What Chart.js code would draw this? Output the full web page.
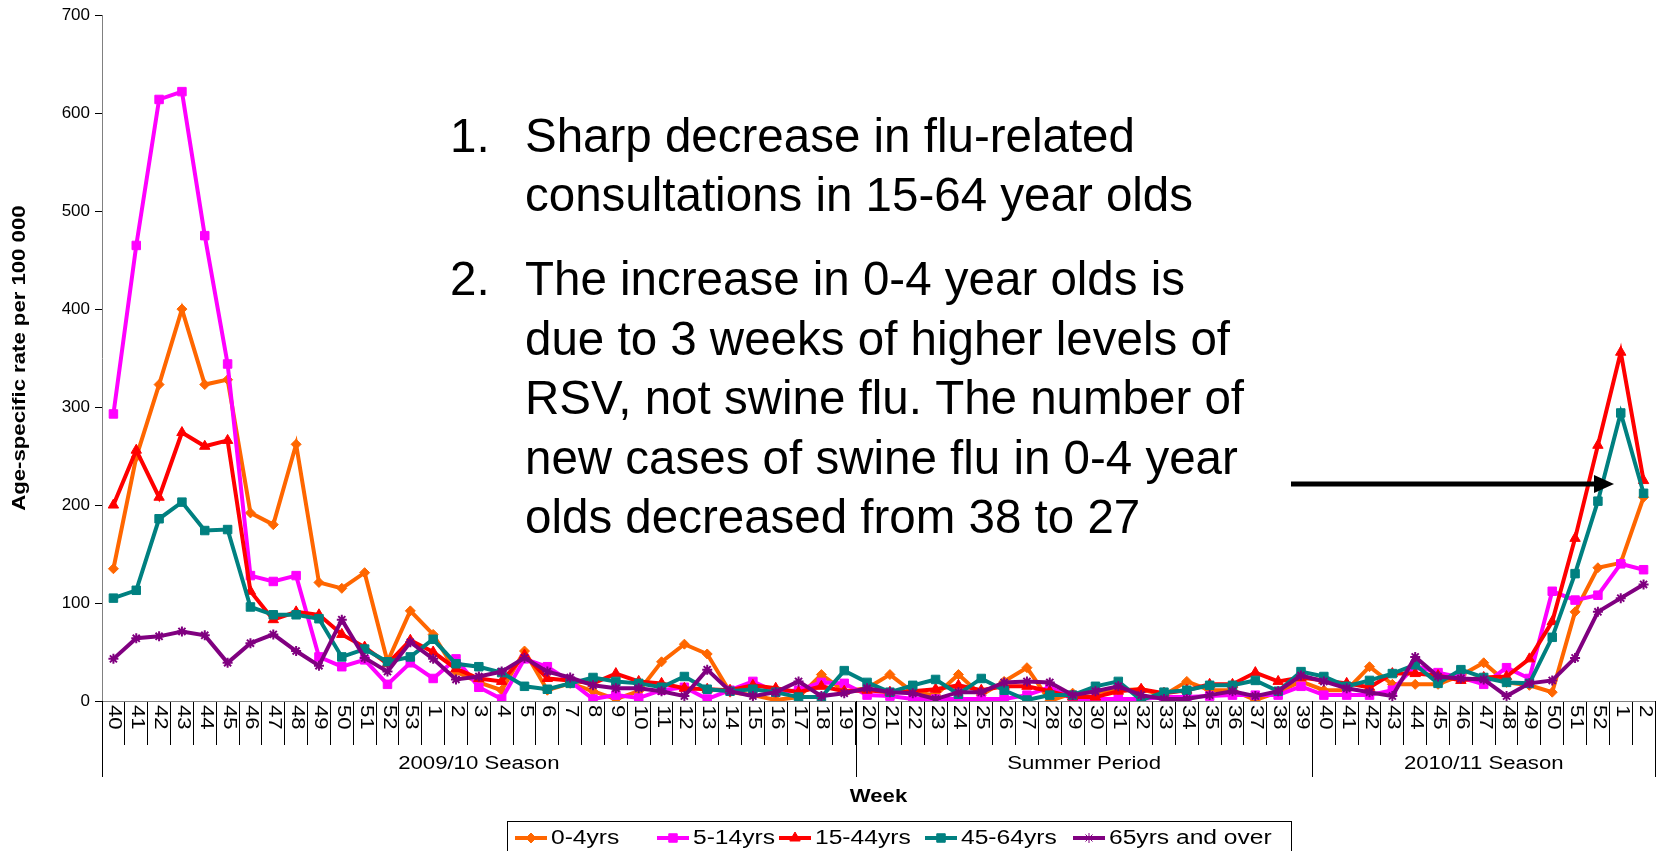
<!DOCTYPE html>
<html lang="en">
    <head>
        <title>Age-specific consultation rates</title>
        <meta charset="UTF-8">
        <script src="https://cdn.jsdelivr.net/npm/chart.js@4.4.1/dist/chart.umd.min.js"></script>
        <style>
            html, body { margin: 0; padding: 0; background: #fff; }
            .chart { width: 1662px; height: 851px; }
        </style>
    </head>
    <body>
        <div class="chart">
            <canvas id="myChart"></canvas>
        </div>
    </body>

    <script>
        // week labels, 2009/10 season -> summer -> 2010/11 season
        const weeks = ['40','41','42','43','44','45','46','47','48','49','50','51','52','53',
            '1','2','3','4','5','6','7','8','9','10','11','12','13','14','15','16','17','18','19',
            '20','21','22','23','24','25','26','27','28','29','30','31','32','33','34','35','36','37','38','39',
            '40','41','42','43','44','45','46','47','48','49','50','51','52','1','2'];

        const periods = ['2009/10 Season', 'Summer Period', '2010/11 Season'];
        const periodLengths = [33, 20, 15];

        const yTicks = [0, 100, 200, 300, 400, 500, 600, 700];

        const ageGroups = ['0-4yrs', '5-14yrs', '15-44yrs', '45-64yrs', '65yrs and over'];

        const rate0to4 = [135,249,323,400,323,328,192,180,262,121,115,131,40,92,
            68,30,19,11,51,11,18,10,2,10,40,58,48,9,6,1,4,27,10,
            13,27,9,6,27,6,20,34,0,8,9,11,12,6,20,11,11,1,9,20,
            11,11,35,17,17,17,26,39,19,16,9,91,136,141,208];

        const rate5to14 = [293,465,614,622,475,344,128,122,128,45,35,42,17,39,
            23,43,14,2,43,35,20,2,6,3,11,14,2,11,20,9,11,19,18,
            6,5,2,2,2,2,2,6,14,2,2,2,2,4,4,5,6,6,6,15,
            6,6,6,11,36,29,24,17,34,23,112,103,108,140,134];

        const rate15to44 = [200,256,208,274,260,266,112,83,91,88,68,55,38,62,
            50,33,23,20,47,23,21,18,28,20,18,13,12,11,16,13,9,15,10,
            11,9,10,12,16,11,15,15,10,4,4,10,12,8,11,17,17,29,20,24,
            21,18,14,28,28,26,21,24,25,43,81,166,261,356,225];

        const rate45to64 = [105,113,186,203,174,175,96,88,88,84,45,53,40,45,
            63,38,35,29,15,12,18,24,20,18,14,25,12,10,12,9,4,4,31,
            19,9,16,22,7,23,11,1,6,6,15,20,1,9,11,16,16,21,10,30,
            25,15,21,28,37,18,32,24,19,18,65,130,204,294,212];

        const rate65plus = [43,64,66,71,67,39,59,68,51,36,83,44,30,60,
            43,22,25,30,44,30,24,16,13,13,10,5,32,10,5,9,20,5,8,
            13,9,8,2,9,9,19,20,19,6,10,15,6,2,2,6,10,5,10,26,
            20,13,9,5,45,25,23,22,5,18,21,44,91,105,119];

        const seriesColors = ['#FF6600', '#FF00FF', '#FF0000', '#008080', '#800080'];
        const pointStyles = ['rectRot', 'rect', 'triangle', 'rect', 'star'];
        const pointSizes = [5, 6, 6, 6, 5];

        const noteOne = ['Sharp decrease in flu-related', 'consultations in 15-64 year olds'];
        const noteTwo = ['The increase in 0-4 year olds is', 'due to 3 weeks of higher levels of',
            'RSV, not swine flu. The number of', 'new cases of swine flu in 0-4 year', 'olds decreased from 38 to 27'];

        const FONT = '"Liberation Sans", Arial, sans-serif';
        const SX = 1.23; // chart text in the original is a bit wide

        function wideText(ctx, txt, x, y, font, align, rot) {
            ctx.save();
            ctx.translate(x, y);
            if (rot) ctx.rotate(rot);
            ctx.scale(SX, 1);
            ctx.font = font;
            ctx.textAlign = align;
            ctx.textBaseline = 'middle';
            ctx.fillStyle = '#000';
            ctx.fillText(txt, 0, 0);
            ctx.restore();
        }

        function marker(ctx, style, r, color, x, y) {
            ctx.save();
            ctx.fillStyle = color;
            ctx.strokeStyle = color;
            Chart.helpers.drawPoint(ctx, {pointStyle: style, radius: r, rotation: 0, borderWidth: style === 'star' ? 2 : 1}, x, y);
            ctx.restore();
        }

        const decorations = {
            id: 'decorations',
            afterDraw(chart) {
                const ctx = chart.ctx;
                const xs = chart.scales.x;
                const area = chart.chartArea;
                const bottom = area.bottom;

                // week labels, turned clockwise
                weeks.forEach((w, i) => {
                    wideText(ctx, w, xs.getPixelForValue(i) + 1, bottom + 4, '18px ' + FONT, 'left', Math.PI / 2);
                });

                // period separators and names
                ctx.save();
                ctx.strokeStyle = '#000';
                ctx.lineWidth = 1;
                let start = 0;
                const edge = (i) => area.left + (area.right - area.left) * i / weeks.length;
                [0].concat(periodLengths).forEach((n) => {
                    start += n;
                    const x = Math.round(edge(start)) + 0.5;
                    ctx.beginPath();
                    ctx.moveTo(x, bottom);
                    ctx.lineTo(x, bottom + 76);
                    ctx.stroke();
                });
                ctx.restore();
                start = 0;
                periods.forEach((p, k) => {
                    const mid = (edge(start) + edge(start + periodLengths[k])) / 2;
                    wideText(ctx, p, mid, 764, '18px ' + FONT, 'center');
                    start += periodLengths[k];
                });

                wideText(ctx, 'Week', (area.left + area.right) / 2, 797, 'bold 18px ' + FONT, 'center');
                wideText(ctx, 'Age-specific rate per 100 000', 20, (area.top + bottom) / 2, 'bold 18px ' + FONT, 'center', -Math.PI / 2);

                // legend
                ctx.save();
                ctx.strokeStyle = '#000';
                ctx.lineWidth = 1;
                ctx.strokeRect(507.5, 821.5, 784, 40);
                ctx.restore();
                const legendX = [515, 657, 779, 925, 1073];
                ageGroups.forEach((g, k) => {
                    const x0 = legendX[k];
                    ctx.save();
                    ctx.strokeStyle = seriesColors[k];
                    ctx.lineWidth = 4;
                    ctx.beginPath();
                    ctx.moveTo(x0, 838);
                    ctx.lineTo(x0 + 32, 838);
                    ctx.stroke();
                    ctx.restore();
                    marker(ctx, pointStyles[k], pointSizes[k], seriesColors[k], x0 + 16, 838);
                    wideText(ctx, g, x0 + 36, 838, '20px ' + FONT, 'left');
                });

                // notes
                ctx.save();
                ctx.fillStyle = '#000';
                ctx.font = '47.5px ' + FONT;
                ctx.textBaseline = 'middle';
                ctx.fillText('1.', 450, 139);
                noteOne.forEach((t, j) => ctx.fillText(t, 525, 139 + j * 59));
                ctx.fillText('2.', 450, 282);
                noteTwo.forEach((t, j) => ctx.fillText(t, 525, 282 + j * 59.5));

                // arrow
                ctx.strokeStyle = '#000';
                ctx.lineWidth = 5;
                ctx.beginPath();
                ctx.moveTo(1291, 484);
                ctx.lineTo(1597, 484);
                ctx.stroke();
                ctx.beginPath();
                ctx.moveTo(1614, 484);
                ctx.lineTo(1594, 475);
                ctx.lineTo(1594, 493);
                ctx.closePath();
                ctx.fill();
                ctx.restore();
            }
        };

        const allSeries = [rate0to4, rate5to14, rate15to44, rate45to64, rate65plus];

        const myChart = document.getElementById('myChart').getContext('2d');

        const lineChart = new Chart(myChart, {
            type: 'line',
            data: {
                labels: weeks,
                datasets: allSeries.map((d, k) => ({
                    label: ageGroups[k],
                    data: d,
                    borderColor: seriesColors[k],
                    backgroundColor: seriesColors[k],
                    borderWidth: 4,
                    tension: 0,
                    pointStyle: pointStyles[k],
                    pointRadius: pointSizes[k],
                    pointBorderWidth: pointStyles[k] === 'star' ? 2 : 1,
                    pointBackgroundColor: seriesColors[k],
                    pointBorderColor: seriesColors[k],
                    order: 4 - k,
                })),
            },
            options: {
                responsive: true,
                maintainAspectRatio: false,
                animation: false,
                layout: { padding: { left: 0, right: 1, top: 15, bottom: 0 } },
                plugins: {
                    legend: { display: false },
                    tooltip: { enabled: false },
                },
                scales: {
                    x: {
                        type: 'category',
                        offset: true,
                        afterFit: (s) => { s.height = 150; },
                        ticks: { display: false },
                        grid: { offset: true, drawOnChartArea: false, tickLength: 44, color: '#000' },
                        border: { color: '#808080', width: 1 },
                    },
                    y: {
                        min: 0,
                        max: 700,
                        afterFit: (s) => { s.width = 102; },
                        afterBuildTicks: (s) => { s.ticks = yTicks.map(v => ({ value: v })); },
                        ticks: { font: { family: FONT, size: 17 }, color: '#000', padding: 5 },
                        grid: { drawOnChartArea: false, tickLength: 7, color: '#000' },
                        border: { color: '#808080', width: 1 },
                    },
                },
            },
            plugins: [decorations],
        });
    </script>
</html>
